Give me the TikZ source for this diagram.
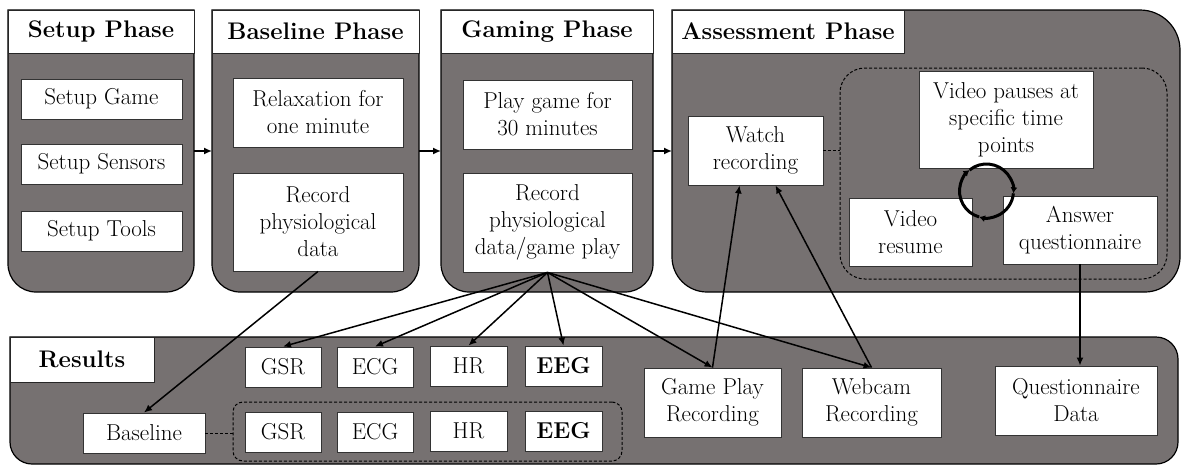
\documentclass[tikz,border=0pt]{standalone}
\usetikzlibrary{arrows.meta,calc}
\definecolor{pg}{RGB}{118,113,113}
\begin{document}
\begin{tikzpicture}[x=1pt,y=-1pt,
 panel/.style={fill=pg,draw=black,line width=1.2pt},
 hdr/.style={draw=black!85,fill=white,line width=1pt,inner sep=0pt,font=\rmfamily\fontsize{24}{26}\selectfont\bfseries},
 wbox/.style={draw=black!80,fill=white,line width=0.9pt,inner sep=0pt,align=center,font=\rmfamily\fontsize{23}{27}\selectfont},
 conn/.style={line width=1.5pt,-{Latex[length=8pt,width=7pt]}},
 dashconn/.style={line width=1pt,dash pattern=on 3pt off 2pt},
 dbox/.style={draw=black,line width=1pt,dash pattern=on 3pt off 2pt,inner sep=0pt},
 cycarrow/.style={line width=3pt,-{Latex[length=6pt,width=7pt]}}]
\useasboundingbox (0,0) rectangle (1181,466);
% panels
\draw[panel] (8,10) -- (194,10) -- (194,264) arc[start angle=0,end angle=90,radius=28] -- (36,292) arc[start angle=90,end angle=180,radius=28] -- cycle;
\draw[panel] (212,10) -- (419,10) -- (419,264) arc[start angle=0,end angle=90,radius=28] -- (240,292) arc[start angle=90,end angle=180,radius=28] -- cycle;
\draw[panel] (441,10) -- (653,10) -- (653,264) arc[start angle=0,end angle=90,radius=28] -- (469,292) arc[start angle=90,end angle=180,radius=28] -- cycle;
\draw[panel] (672,10) -- (1140,10) arc[start angle=-90,end angle=0,radius=40] -- (1180,257) arc[start angle=0,end angle=90,radius=35] -- (707,292) arc[start angle=90,end angle=180,radius=35] -- cycle;
\draw[panel] (10,337) -- (1156,337) arc[start angle=-90,end angle=0,radius=22] -- (1178,442) arc[start angle=0,end angle=90,radius=22] -- (32,464) arc[start angle=90,end angle=180,radius=22] -- cycle;
% headers
\node[hdr,minimum width=186,minimum height=43] (hsetup) at (101,31.5) {Setup Phase};
\node[hdr,minimum width=207,minimum height=43] (hbase) at (315.5,31.5) {Baseline Phase};
\node[hdr,minimum width=212,minimum height=43] (hgame) at (547,31.5) {Gaming Phase};
\node[hdr,minimum width=232,minimum height=43] (hassess) at (788,31.5) {Assessment Phase};
\node[hdr,minimum width=144,minimum height=45] (hres) at (82,359.5) {Results};
% panel edge points
\coordinate (p1e) at (194,151);
\coordinate (p2w) at (212,151);
\coordinate (p2e) at (419,151);
\coordinate (p3w) at (441,151);
\coordinate (p3e) at (653,151);
\coordinate (p4w) at (672,151);
% dashed groups
\node[dbox,rounded corners=25pt,minimum width=327,minimum height=211] (loop) at (1003.5,173.5) {};
\node[dbox,rounded corners=10pt,minimum width=389,minimum height=59] (grp) at (427.5,431.5) {};
% setup
\node[wbox,minimum width=161,minimum height=40] (sg) at (101.5,99) {Setup Game};
\node[wbox,minimum width=161,minimum height=40] (ss) at (101.5,164) {Setup Sensors};
\node[wbox,minimum width=161,minimum height=40] (st) at (101.5,231) {Setup Tools};
% baseline
\node[wbox,minimum width=170,minimum height=69] (relax) at (318,112.5) {Relaxation for\\one minute};
\node[wbox,minimum width=170,minimum height=98] (recb) at (318,222) {Record\\physiological\\data};
% gaming
\node[wbox,minimum width=169,minimum height=69] (play) at (547.5,114.5) {Play game for\\30 minutes};
\node[wbox,minimum width=169,minimum height=99] (recg) at (547.5,222.5) {Record\\physiological\\data/game play};
% assessment
\node[wbox,minimum width=135,minimum height=69] (watch) at (755.5,150.5) {Watch\\recording};
\node[wbox,minimum width=174,minimum height=97] (pause) at (1006,119.5) {Video pauses at\\specific time\\points};
\node[wbox,minimum width=123,minimum height=68] (resume) at (910.5,232) {Video\\resume};
\node[wbox,minimum width=154,minimum height=68] (answer) at (1080,230) {Answer\\questionnaire};
% results
\node[wbox,minimum width=76,minimum height=40] (gsr1) at (283,367) {GSR};
\node[wbox,minimum width=76,minimum height=40] (ecg1) at (375,367) {ECG};
\node[wbox,minimum width=77,minimum height=40] (hr1) at (468.5,366) {HR};
\node[wbox,minimum width=77,minimum height=40] (eeg1) at (563.5,366) {\textbf{EEG}};
\node[wbox,minimum width=122,minimum height=40] (baseline) at (144,433) {Baseline};
\node[wbox,minimum width=76,minimum height=40] (gsr2) at (283,432) {GSR};
\node[wbox,minimum width=76,minimum height=40] (ecg2) at (375,432) {ECG};
\node[wbox,minimum width=77,minimum height=40] (hr2) at (468.5,431) {HR};
\node[wbox,minimum width=77,minimum height=40] (eeg2) at (563.5,431) {\textbf{EEG}};
\node[wbox,minimum width=137,minimum height=69] (gpr) at (712.5,402.5) {Game Play\\Recording};
\node[wbox,minimum width=139,minimum height=69] (web) at (871.5,402.5) {Webcam\\Recording};
\node[wbox,minimum width=162,minimum height=69] (qd) at (1076,400.5) {Questionnaire\\Data};
% phase arrows
\draw[conn] (p1e) -- (p2w);
\draw[conn] (p2e) -- (p3w);
\draw[conn] (p3e) -- (p4w);
% dashed links
\draw[dashconn] (watch.east) -- (watch.east -| loop.west);
\draw[dashconn] (baseline.east) -- (baseline.east -| grp.west);
% loop circle
\coordinate (cc) at (986.5,191);
\draw[cycarrow] ([shift={(106:27)}]cc) arc[start angle=106,end angle=231,radius=27];
\draw[cycarrow] ([shift={(231:27)}]cc) arc[start angle=231,end angle=365,radius=27];
\draw[cycarrow] ([shift={(5:27)}]cc) arc[start angle=5,end angle=106,radius=27];
% connectors
\draw[conn] (recb.south) -- (baseline.north);
\draw[conn] (recg.south) -- (gsr1.north);
\draw[conn] (recg.south) -- (ecg1.north);
\draw[conn] (recg.south) -- (hr1.north);
\draw[conn] (recg.south) -- (eeg1.north);
\draw[conn] (recg.south) -- (gpr.north);
\draw[conn] (recg.south) -- (web.north);
\draw[conn] (gpr.north) -- ([xshift=-16pt]watch.south);
\draw[conn] (web.north) -- ([xshift=20pt]watch.south);
\draw[conn] (answer.south) -- (answer.south |- qd.north);
\end{tikzpicture}
\end{document}
